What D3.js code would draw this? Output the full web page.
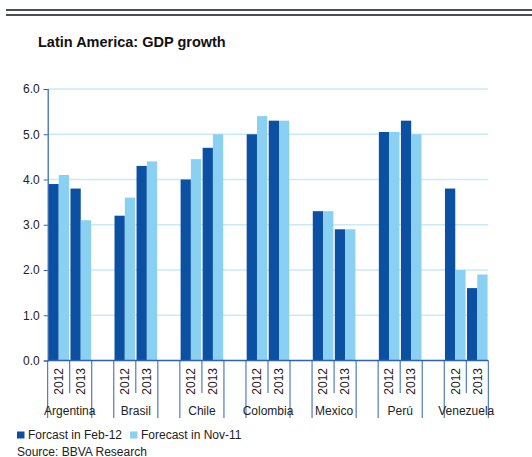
<!DOCTYPE html>
<html>
<head>
<meta charset="utf-8">
<script src="https://cdn.jsdelivr.net/npm/d3@7"></script>
<style>
  html, body { margin: 0; padding: 0; background: #fff; }
  svg { display: block; font-family: Arial, "Liberation Sans", sans-serif; }
</style>
</head>
<body>
<svg id="chart" width="532" height="457"></svg>
<script>
// GDP growth forecasts by country and year (%)
const countries = ["Argentina", "Brasil", "Chile", "Colombia", "Mexico", "Perú", "Venezuela"];
const years = ["2012", "2013"];
const seriesNames = ["Forcast in Feb-12", "Forecast in Nov-11"];
// values listed country by country: [2012, 2013]
const forecastFeb12 = [3.9, 3.8, 3.2, 4.3, 4.0, 4.7, 5.0, 5.3, 3.3, 2.9, 5.05, 5.3, 3.8, 1.6];
const forecastNov11 = [4.1, 3.1, 3.6, 4.4, 4.45, 5.0, 5.4, 5.3, 3.3, 2.9, 5.05, 5.0, 2.0, 1.9];
const yTicks = [0, 1, 2, 3, 4, 5, 6];

(function () {
  const colors = ["#0b50a3", "#89d0f2"];
  const axisBlue = "#2d62b0";

  const svg = d3.select("#chart");

  // header rules
  svg.append("rect").attr("x", 6).attr("y", 9).attr("width", 526).attr("height", 2).attr("fill", "#4b4f55");
  svg.append("rect").attr("x", 6).attr("y", 14).attr("width", 526).attr("height", 2).attr("fill", "#4b4f55");

  svg.append("text")
    .attr("x", 38).attr("y", 47)
    .attr("font-size", 14.5).attr("font-weight", "bold").attr("fill", "#111")
    .text("Latin America: GDP growth");

  // slot list: two year slots per country, one empty slot between countries
  const slots = [];
  countries.forEach((c, ci) => {
    years.forEach((yr, yi) => slots.push({ key: c + "|" + yr, country: c, year: yr, idx: ci * 2 + yi }));
    if (ci < countries.length - 1) slots.push({ key: "gap" + ci, gap: true });
  });

  const plotL = 47.7, plotR = 488.3, plotT = 89, plotB = 360.5;

  const x = d3.scaleBand().domain(slots.map(s => s.key)).range([plotL, plotR]).padding(0);
  const xs = d3.scaleBand().domain([0, 1]).range([0, x.bandwidth()]).paddingInner(0).paddingOuter(0.07);
  const y = d3.scaleLinear().domain([0, 6]).range([plotB, plotT]);

  // gridlines
  svg.append("g").selectAll("line").data(yTicks.filter(t => t > 0)).join("line")
    .attr("x1", plotL).attr("x2", plotR)
    .attr("y1", d => y(d)).attr("y2", d => y(d))
    .attr("stroke", "#c9eaf8").attr("stroke-width", 1.6);

  // bars
  const barData = slots.filter(s => !s.gap);
  const bars = svg.append("g");
  [forecastFeb12, forecastNov11].forEach((vals, si) => {
    bars.append("g").selectAll("rect").data(barData).join("rect")
      .attr("x", d => x(d.key) + xs(si))
      .attr("width", xs.bandwidth())
      .attr("y", d => y(vals[d.idx]))
      .attr("height", d => y(0) - y(vals[d.idx]))
      .attr("fill", colors[si]);
  });

  // y axis
  const yAxis = d3.axisLeft(y).tickValues(yTicks).tickFormat(d3.format(".1f")).tickSize(4).tickPadding(4);
  const gy = svg.append("g").attr("transform", `translate(${plotL},0)`).call(yAxis);
  gy.select(".domain").attr("stroke", axisBlue).attr("stroke-width", 1.2);
  gy.selectAll(".tick line").attr("stroke", axisBlue);
  gy.selectAll(".tick text").attr("font-size", 12).attr("fill", "#222")
    .attr("font-family", "Arial, 'Liberation Sans', sans-serif");

  // x axis baseline
  svg.append("line").attr("x1", plotL).attr("x2", plotR)
    .attr("y1", plotB).attr("y2", plotB)
    .attr("stroke", axisBlue).attr("stroke-width", 1.6);

  // category separators: short within a country, long between groups
  const bounds = d3.range(slots.length + 1);
  svg.append("g").selectAll("line").data(bounds).join("line")
    .attr("x1", i => plotL + i * x.step()).attr("x2", i => plotL + i * x.step())
    .attr("y1", plotB)
    .attr("y2", i => (i % 3 === 1) ? 393 : 418)
    .attr("stroke", axisBlue).attr("stroke-width", 1);

  // year labels (rotated)
  svg.append("g").selectAll("text").data(barData).join("text")
    .attr("transform", d => `translate(${x(d.key) + x.bandwidth() / 2 + 4.3},368) rotate(-90)`)
    .attr("text-anchor", "end")
    .attr("font-size", 12).attr("fill", "#222")
    .text(d => d.year);

  // country labels
  svg.append("g").selectAll("text").data(countries).join("text")
    .attr("x", c => x(c + "|" + years[1]))
    .attr("y", 414.5)
    .attr("text-anchor", "middle")
    .attr("font-size", 12).attr("fill", "#222")
    .text(c => c);

  // legend
  const legendX = [17, 130];
  const lg = svg.append("g");
  seriesNames.forEach((name, i) => {
    lg.append("rect").attr("x", legendX[i]).attr("y", 431.5).attr("width", 7.5).attr("height", 7).attr("fill", colors[i]);
    lg.append("text").attr("x", legendX[i] + 11).attr("y", 439)
      .attr("font-size", 12).attr("fill", "#222").text(name);
  });

  svg.append("text").attr("x", 17).attr("y", 455.5)
    .attr("font-size", 12).attr("fill", "#222").text("Source: BBVA Research");
})();
</script>
</body>
</html>
